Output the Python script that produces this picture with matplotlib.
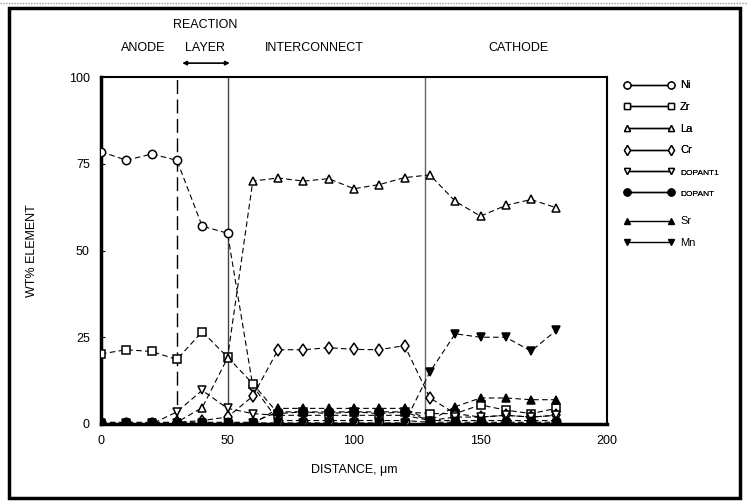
import numpy as np
import matplotlib
matplotlib.use("Agg")
import matplotlib.pyplot as plt
from matplotlib.lines import Line2D
from matplotlib.patches import Rectangle

plt.rcParams['font.family'] = ['Liberation Sans Narrow', 'Liberation Sans', 'DejaVu Sans']

# distance along the cross-section, um
distance = [0, 10, 20, 30, 40, 50, 60, 70, 80, 90, 100, 110, 120, 130, 140, 150, 160, 170, 180]

# wt% of each element
ni = [78.5, 76, 77.8, 76, 57, 55, 11, 1, 1, 1, 1, 1, 1, 0.5, 0.5, 0.5, 0.5, 0.5, 0.5]
zr = [20.2, 21.4, 20.9, 18.6, 26.6, 19.3, 11.6, 3, 3.5, 3, 3.5, 3, 3.5, 3, 3, 5.5, 4, 3, 4.5]
la = [0, 0, 0, 0.5, 4.7, 19, 70, 70.9, 70, 70.7, 67.8, 69, 71, 71.8, 64.2, 59.9, 63, 64.7, 62.3]
cr = [0, 0, 0, 0.5, 1, 2, 8, 21.4, 21.4, 22, 21.5, 21.4, 22.6, 7.5, 3, 2, 2.5, 2, 2.5]
dopant1 = [0, 0, 0, 3.5, 9.7, 4.5, 3, 2.5, 2.5, 2.5, 2.5, 2.5, 2.5, 1, 2, 2, 2.5, 2, 2.5]
dopant2 = [0.5, 0.5, 0.5, 0.5, 0.5, 0.5, 0.5, 3.5, 3.5, 3.5, 3.5, 3.5, 3.5, 1, 1, 1, 1, 1, 1]
sr = [0, 0, 0, 0, 0, 0, 0, 4.5, 4.5, 4.5, 4.5, 4.5, 4.5, 1, 5, 7.5, 7.5, 7, 7]
mn = [0.3, 0.3, 0.3, 0.3, 0.3, 0.3, 0.3, 0.3, 0.3, 0.3, 0.3, 0.3, 0.3, 15, 26, 25, 25, 21, 27]

series = [
    ("Ni", ni, "o", "white"),
    ("Zr", zr, "s", "white"),
    ("La", la, "^", "white"),
    ("Cr", cr, "d", "white"),
    ("DOPANT1", dopant1, "v", "white"),
    ("DOPANT", dopant2, "o", "black"),
    ("Sr", sr, "^", "black"),
    ("Mn", mn, "v", "black"),
]

# layer boundaries and header labels
boundaries = [30, 50, 128]
headers = [("ANODE", 16.5), ("LAYER", 41), ("INTERCONNECT", 84.5), ("CATHODE", 165)]

fig = plt.figure(figsize=(7.48, 5.04), dpi=100)
ax = fig.add_axes([101 / 748, 1 - 424 / 504, 506 / 748, 347 / 504])

for name, vals, mk, fc in series:
    ax.plot(distance, vals, color="black", lw=0.8, ls=(0, (5, 3)),
            marker=mk, ms=6, mfc=fc, mec="black", mew=1.1, zorder=3)

ax.axvline(boundaries[0], color="black", lw=1.0, ls=(0, (10, 4)), zorder=2)
ax.axvline(boundaries[1], color="#444444", lw=1.0, zorder=2)
ax.axvline(boundaries[2], color="#666666", lw=1.0, zorder=2)

ax.set_xlim(0, 200)
ax.set_ylim(0, 100)
ax.set_xticks([0, 50, 100, 150, 200])
ax.set_yticks([0, 25, 50, 75, 100])
ax.tick_params(direction="in", length=3, labelsize=9, pad=8)
for side in ["top", "right"]:
    ax.spines[side].set_linewidth(1.5)
ax.spines["left"].set_linewidth(2.5)
ax.spines["bottom"].set_linewidth(2.5)

ax.set_xlabel("DISTANCE, μm", fontsize=9, labelpad=12)
ax.set_ylabel("WT% ELEMENT", fontsize=9, labelpad=22)

trans = ax.get_xaxis_transform()
for txt, xpos in headers:
    ax.text(xpos, 1.085, txt, transform=trans, ha="center", va="center", fontsize=9, clip_on=False)
ax.text(41, 1.15, "REACTION", transform=trans, ha="center", va="center", fontsize=9, clip_on=False)
ax.annotate("", xy=(31, 1.04), xytext=(52, 1.04), xycoords=trans, textcoords=trans,
            arrowprops=dict(arrowstyle="<|-|>", color="black", lw=1.2, mutation_scale=6))

# legend, split in two groups like the original
handles = [Line2D([], [], color="black", lw=1, marker=mk, ms=5, mfc=fc, mec="black")
           for _, _, mk, fc in series]
labels = [s[0] for s in series]
common = dict(loc="upper left", frameon=False, numpoints=2, handlelength=4.6, labelspacing=1.05,
              fontsize=8, handletextpad=0.5, borderaxespad=0)
leg1 = fig.legend(handles[:6], labels[:6], bbox_to_anchor=(619 / 748, 1 - 76 / 504), **common)
leg2 = fig.legend(handles[6:], labels[6:], bbox_to_anchor=(619 / 748, 1 - 212 / 504), **common)
fig.add_artist(leg1)
for t in leg1.get_texts()[4:]:
    t.set_fontsize(6)

# outer frame of the scanned figure
fig.patches.append(Rectangle((9 / 748, 6 / 504), 731 / 748, 490 / 504, transform=fig.transFigure,
                             fill=False, lw=2.5, ec="black"))
fig.lines.append(Line2D([0, 1], [1 - 3 / 504, 1 - 3 / 504], transform=fig.transFigure,
                        color="#999999", lw=1, ls=(0, (1, 1))))

fig.savefig("out.png", dpi=100)
